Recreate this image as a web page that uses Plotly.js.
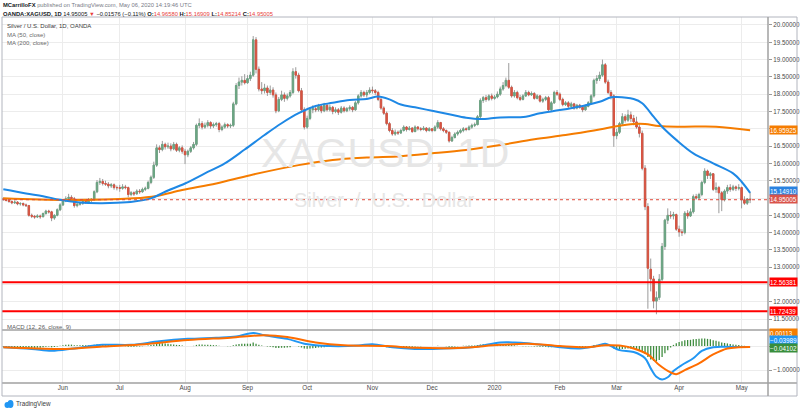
<!DOCTYPE html>
<html><head><meta charset="utf-8">
<script src="https://cdn.plot.ly/plotly-3.0.1.min.js"></script>
<style>html,body{margin:0;padding:0;background:#fff;}#chart{width:800px;height:412px;}</style>
</head><body><div id="chart"></div>
<script>
// ---- calendar (trading weekdays) ----
function weekdays(a, b) {
  const out = []; let d = new Date(a + 'T00:00:00Z'); const e = new Date(b + 'T00:00:00Z');
  while (d <= e) { const w = d.getUTCDay(); if (w !== 0 && w !== 6) out.push(d.toISOString().slice(0, 10)); d = new Date(d.getTime() + 86400000); }
  return out;
}
const dates = weekdays('2019-05-03', '2020-05-06');

// ---- OHLC (XAGUSD daily) ----
const opens = [14.98,
 14.96,14.93,14.90,14.86,14.88, 14.83,14.84,14.80,14.78,14.50, 14.47,14.45,14.48,14.46,14.55, 14.62,14.60,14.42,14.50,14.66,
 14.80,14.92,14.98,15.02,14.98, 14.78,14.82,14.85,14.90,14.88, 14.94,14.96,15.18,15.45,15.48, 15.42,15.40,15.35,15.38,15.30,
 15.30,15.28,15.32,15.30,15.10, 15.15,15.12,15.20,15.18,15.25, 15.28,15.45,15.60,15.95,16.45, 16.40,16.55,16.48,16.50,16.42,
 16.55,16.38,16.45,16.35,16.25, 16.35,16.45,16.55,17.10,17.15, 17.05,17.10,17.18,17.08,17.12, 17.15,16.98,17.05,17.12,17.08,
 17.10,17.72,18.25,18.35,18.40, 18.33,18.45,18.55,19.57,18.72, 18.15,18.10,18.18,18.05,18.12, 17.98,17.52,17.85,17.98,17.88,
 17.95,18.05,18.65,18.55,18.10, 17.55,17.05,17.30,17.55,17.58, 17.55,17.65,17.52,17.68,17.55, 17.62,17.50,17.55,17.48,17.60,
 17.52,17.58,17.62,17.55,17.75, 17.95,18.05,17.98,18.05,18.12, 18.10,18.05,17.85,17.60,17.45, 17.15,16.95,16.85,16.90,16.88,
 16.95,17.05,16.98,17.02,16.92, 17.05,17.00,16.98,17.02,16.95, 17.00,16.95,17.05,17.18,17.00, 16.95,16.90,16.65,16.75,16.85,
 16.90,16.95,17.00,16.98,17.05, 17.10,17.12,17.35,17.82,17.90, 17.85,17.95,17.88,17.92,18.00, 18.15,18.25,18.40,18.20,17.95,
 18.05,17.90,17.85,17.95,18.05, 17.98,18.02,17.88,17.95,17.80, 17.85,17.90,17.55,17.75,18.05, 18.00,17.85,17.70,17.75,17.65,
 17.72,17.60,17.68,17.62,17.55, 17.65,17.75,17.95,18.40,18.45, 18.55,18.85,18.35,18.05,17.95, 16.80,16.90,17.15,17.35,17.25,
 17.40,17.30,17.20,17.05,16.87, 15.86,14.75,12.94,12.66,12.02, 12.12,12.65,13.60,14.36,14.50, 14.48,14.52,14.10,14.02,14.00,
 14.56,14.48,14.60,15.04,15.00, 15.10,15.45,15.78,15.65,15.70, 15.25,15.30,15.15,14.95,15.20, 15.30,15.25,15.32,15.28,15.30,
 14.95,14.85,14.9658];
const highs = [15.02,
 15.00,14.97,14.93,14.93,14.91, 14.88,14.87,14.84,14.80,14.55, 14.51,14.53,14.52,14.58,14.66, 14.66,14.63,14.53,14.70,14.85,
 14.96,15.05,15.12,15.08,15.03, 14.88,14.90,14.95,14.96,15.00, 15.00,15.22,15.52,15.58,15.55, 15.50,15.46,15.43,15.42,15.36,
 15.38,15.40,15.38,15.33,15.20, 15.19,15.25,15.26,15.30,15.33, 15.50,15.65,16.05,16.55,16.52, 16.65,16.60,16.60,16.58,16.62,
 16.60,16.50,16.52,16.42,16.40, 16.50,16.62,17.15,17.30,17.22, 17.18,17.25,17.22,17.18,17.20, 17.20,17.10,17.18,17.16,17.15,
 17.78,18.32,18.48,18.52,18.58, 18.55,18.65,19.68,19.65,18.80, 18.35,18.30,18.25,18.25,18.20, 18.05,17.92,18.10,18.05,18.02,
 18.12,18.75,18.78,18.62,18.18, 17.62,17.38,17.62,17.68,17.66, 17.72,17.70,17.75,17.72,17.70, 17.66,17.62,17.60,17.66,17.65,
 17.63,17.68,17.66,17.80,18.00, 18.12,18.10,18.12,18.20,18.22, 18.15,18.10,17.90,17.65,17.50, 17.20,17.02,16.98,16.95,17.00,
 17.10,17.08,17.08,17.05,17.10, 17.08,17.05,17.08,17.05,17.05, 17.02,17.10,17.25,17.20,17.05, 16.98,16.92,16.80,16.90,16.95,
 17.00,17.05,17.04,17.10,17.15, 17.18,17.40,17.88,17.95,17.98, 18.00,18.02,17.98,18.08,18.22, 18.35,18.48,18.90,18.25,18.12,
 18.10,17.98,18.00,18.12,18.10, 18.08,18.06,18.00,17.98,17.90, 17.95,17.95,17.80,18.10,18.12, 18.05,17.90,17.80,17.80,17.78,
 17.75,17.72,17.72,17.66,17.70, 17.80,18.00,18.45,18.55,18.65, 19.00,18.90,18.42,18.12,18.00, 17.00,17.20,17.45,17.42,17.55,
 17.50,17.40,17.35,17.15,16.95, 15.95,14.85,13.25,12.75,12.30, 12.80,13.70,14.40,14.70,14.62, 14.60,14.55,14.20,14.10,14.62,
 14.65,14.70,15.10,15.12,15.15, 15.50,15.86,15.82,15.75,15.72, 15.45,15.35,15.20,15.25,15.38, 15.40,15.38,15.36,15.40,15.33,
 15.05,15.00,15.16909];
const lows = [14.92,
 14.90,14.86,14.82,14.83,14.79, 14.78,14.76,14.74,14.46,14.42, 14.40,14.42,14.40,14.44,14.52, 14.55,14.33,14.37,14.47,14.62,
 14.77,14.88,14.94,14.92,14.72, 14.73,14.78,14.80,14.83,14.85, 14.88,14.92,15.14,15.38,15.36, 15.35,15.28,15.29,15.24,15.22,
 15.18,15.24,15.25,15.02,15.05, 15.06,15.10,15.12,15.15,15.20, 15.25,15.40,15.55,15.90,16.30, 16.35,16.40,16.42,16.35,16.38,
 16.33,16.32,16.28,15.98,16.18, 16.30,16.40,16.50,17.02,16.98, 17.00,17.04,17.00,17.02,17.06, 16.90,16.93,17.00,17.02,17.02,
 17.05,17.68,18.15,18.25,18.28, 18.30,18.38,18.50,18.60,18.08, 18.00,18.02,17.95,17.98,17.90, 17.45,17.48,17.80,17.78,17.82,
 17.90,18.00,18.45,18.05,17.50, 16.98,17.00,17.25,17.45,17.48, 17.50,17.45,17.48,17.50,17.50, 17.42,17.45,17.40,17.44,17.47,
 17.48,17.52,17.48,17.52,17.70, 17.90,17.92,17.90,18.00,18.02, 17.98,17.80,17.55,17.40,17.10, 16.90,16.80,16.80,16.82,16.85,
 16.92,16.92,16.95,16.88,16.90, 16.95,16.93,16.95,16.90,16.92, 16.90,16.92,17.00,16.95,16.90, 16.85,16.60,16.62,16.72,16.80,
 16.86,16.90,16.93,16.95,17.00, 17.05,17.10,17.30,17.75,17.78, 17.80,17.82,17.84,17.88,17.95, 18.10,18.20,18.15,17.90,17.90,
 17.85,17.80,17.82,17.92,17.94, 17.95,17.84,17.85,17.76,17.75, 17.80,17.50,17.50,17.72,17.95, 17.80,17.65,17.66,17.60,17.62,
 17.55,17.56,17.58,17.48,17.52, 17.62,17.70,17.90,18.30,18.38, 18.50,18.30,18.00,17.85,16.48, 16.70,16.85,17.10,17.18,17.20,
 17.20,17.10,17.00,16.75,15.80, 14.65,11.80,12.30,11.81,11.64, 12.05,12.60,13.50,14.25,14.40, 14.38,14.05,13.88,13.90,13.95,
 14.40,14.45,14.55,14.95,14.95, 15.05,15.40,15.55,15.55,15.20, 15.15,14.56,14.62,14.90,15.12, 15.18,15.20,15.20,15.22,14.70,
 14.80,14.80,14.85214];
const closes = [14.96,
 14.93,14.90,14.86,14.88,14.83, 14.84,14.80,14.78,14.50,14.47, 14.45,14.48,14.46,14.55,14.62, 14.60,14.42,14.50,14.66,14.80,
 14.92,14.98,15.02,14.98,14.78, 14.82,14.85,14.90,14.88,14.94, 14.96,15.18,15.45,15.48,15.42, 15.40,15.35,15.38,15.30,15.30,
 15.28,15.32,15.30,15.10,15.15, 15.12,15.20,15.18,15.25,15.28, 15.45,15.60,15.95,16.45,16.40, 16.55,16.48,16.50,16.42,16.55,
 16.38,16.45,16.35,16.25,16.35, 16.45,16.55,17.10,17.15,17.05, 17.10,17.18,17.08,17.12,17.15, 16.98,17.05,17.12,17.08,17.10,
 17.72,18.25,18.35,18.40,18.33, 18.45,18.55,19.57,18.72,18.15, 18.10,18.18,18.05,18.12,17.98, 17.52,17.85,17.98,17.88,17.95,
 18.05,18.65,18.55,18.10,17.55, 17.05,17.30,17.55,17.58,17.55, 17.65,17.52,17.68,17.55,17.62, 17.50,17.55,17.48,17.60,17.52,
 17.58,17.62,17.55,17.75,17.95, 18.05,17.98,18.05,18.12,18.10, 18.05,17.85,17.60,17.45,17.15, 16.95,16.85,16.90,16.88,16.95,
 17.05,16.98,17.02,16.92,17.05, 17.00,16.98,17.02,16.95,17.00, 16.95,17.05,17.18,17.00,16.95, 16.90,16.65,16.75,16.85,16.90,
 16.95,17.00,16.98,17.05,17.10, 17.12,17.35,17.82,17.90,17.85, 17.95,17.88,17.92,18.00,18.15, 18.25,18.40,18.20,17.95,18.05,
 17.90,17.85,17.95,18.05,17.98, 18.02,17.88,17.95,17.80,17.85, 17.90,17.55,17.75,18.05,18.00, 17.85,17.70,17.75,17.65,17.72,
 17.60,17.68,17.62,17.55,17.65, 17.75,17.95,18.40,18.45,18.55, 18.85,18.35,18.05,17.95,16.80, 16.90,17.15,17.35,17.25,17.40,
 17.30,17.20,17.05,16.87,15.86, 14.75,12.97,12.66,12.02,12.12, 12.65,13.60,14.36,14.50,14.48, 14.52,14.10,14.02,14.00,14.56,
 14.48,14.60,15.04,15.00,15.10, 15.45,15.78,15.65,15.70,15.25, 15.30,15.15,14.95,15.20,15.30, 15.25,15.32,15.28,15.30,14.95,
 14.85,14.97,14.95005];

// ---- moving averages read at sample bars ----
const ma50Bars = [0,8,14,20,27,34,40,46,52,57,64,71,78,85,92,98,104,110,116,122,128,132,136,140,145,151,157,163,168,175,184,189,196,204,210,214,216,222,225,229,232,237,243,250,257,260,263];
const ma50Vals = [15.25,15.13,15.05,14.95,14.87,14.85,14.86,14.90,14.99,15.18,15.42,15.71,16.00,16.40,16.82,17.16,17.45,17.66,17.75,17.83,17.86,17.93,17.85,17.70,17.62,17.52,17.42,17.32,17.28,17.33,17.35,17.45,17.54,17.66,17.78,17.91,17.92,17.86,17.74,17.35,17.06,16.68,16.29,16.00,15.71,15.47,15.1491];
const ma200Bars = [0,22,46,54,63,75,87,104,116,128,140,151,163,175,187,198,208,215,222,226,231,239,251,263];
const ma200Vals = [14.99,14.94,14.99,15.06,15.23,15.42,15.66,15.95,16.10,16.17,16.21,16.29,16.39,16.53,16.70,16.82,16.95,17.06,17.14,17.14,17.08,17.06,17.06,16.95925];

// ---- MACD (12, 26, close, 9) ----
const macdBars = [0,10,17,25,35,45,55,65,75,82,88,92,100,106,115,125,130,137,145,155,165,175,180,190,196,203,208,212,214,217,222,226,228,230,232,234,236,239,243,246,250,254,259,263];
const macdVals = [-0.05,-0.12,-0.2,-0.1,0.05,0.05,0.2,0.3,0.35,0.4,0.55,0.45,0.3,0.1,0.0,0.02,0.08,-0.05,-0.12,-0.1,-0.05,0.15,0.15,0.05,-0.05,-0.1,-0.02,0.1,0.0,-0.17,-0.25,-0.51,-0.93,-1.28,-1.39,-1.3,-1.04,-0.79,-0.51,-0.2,-0.05,-0.03,-0.04,-0.03989];
const signalBars = [0,12,22,35,50,65,80,92,100,110,120,135,145,160,175,185,196,205,212,217,222,227,231,235,237,240,245,250,255,259,263];
const signalVals = [-0.05,-0.1,-0.12,-0.02,0.08,0.25,0.35,0.45,0.38,0.15,0.03,0.0,-0.07,-0.08,0.05,0.1,0.0,-0.05,0.03,0.02,-0.1,-0.35,-0.79,-1.1,-1.17,-1.0,-0.72,-0.35,-0.1,-0.05,-0.04102];
const histVals = [
 -0.03,-0.04,-0.05,-0.05,-0.04,-0.05,-0.05,-0.04,-0.04,-0.07,-0.08,-0.08,-0.07,-0.07,-0.05,-0.03,-0.02,-0.05,-0.04,-0.02,0.01,
 0.03,0.05,0.06,0.06,0.03,0.03,0.03,0.04,0.03,0.03,0.03,0.05,0.08,0.09,0.08,0.06,0.05,0.04,0.02,0.01,
 0.0,0.0,-0.01,-0.03,-0.03,-0.03,-0.02,-0.02,-0.01,0.0,0.02,0.04,0.07,0.11,0.12,0.12,0.11,0.1,0.08,0.07,
 0.05,0.04,0.02,0.0,0.0,0.0,0.01,0.05,0.07,0.07,0.06,0.06,0.05,0.04,0.03,0.01,0.0,0.0,-0.01,-0.01,
 0.03,0.07,0.09,0.1,0.1,0.1,0.1,0.15,0.1,0.05,0.02,0.0,-0.02,-0.03,-0.05,-0.08,-0.08,-0.07,-0.07,-0.06,
 -0.05,0.0,0.0,-0.02,-0.06,-0.1,-0.11,-0.1,-0.09,-0.08,-0.06,-0.06,-0.05,-0.04,-0.04,-0.03,-0.02,-0.02,-0.01,-0.01,
 0.0,0.0,0.0,0.01,0.03,0.04,0.05,0.05,0.05,0.05,0.04,0.02,0.0,-0.02,-0.05,-0.07,-0.08,-0.08,-0.07,-0.06,
 -0.05,-0.04,-0.03,-0.03,-0.02,-0.01,-0.01,0.0,0.0,0.0,0.0,0.0,0.01,0.0,0.0,-0.01,-0.03,-0.03,-0.02,-0.01,
 0.0,0.01,0.01,0.02,0.02,0.02,0.04,0.07,0.08,0.08,0.08,0.08,0.07,0.07,0.07,0.08,0.09,0.07,0.04,0.03,
 0.01,0.0,-0.01,-0.01,-0.01,-0.01,-0.02,-0.02,-0.03,-0.03,-0.03,-0.05,-0.05,-0.03,-0.02,-0.03,-0.04,-0.04,-0.04,-0.04,
 -0.04,-0.04,-0.04,-0.04,-0.03,-0.02,0.0,0.04,0.06,0.07,0.09,0.07,0.04,0.0,-0.1,-0.14,-0.14,-0.12,-0.11,-0.1,
 -0.1,-0.11,-0.13,-0.17,-0.24,-0.33,-0.46,-0.56,-0.62,-0.64,-0.58,-0.46,-0.3,-0.17,-0.06,0.05,0.12,0.17,0.2,0.24,
 0.25,0.26,0.28,0.29,0.3,0.32,0.32,0.3,0.28,0.24,0.22,0.19,0.15,0.13,0.11,0.09,0.07,0.05,0.04,0.02,0.01,0.0,0.00113];

// ---- levels & ticks ----
const supportLevels = [12.56381, 11.72439];
const lastClose = 14.95005;
const priceTicks = [11.5,12,12.5,13,13.5,14,14.5,15,15.5,16,16.5,17,17.5,18,18.5,19,19.5,20];
const coveredTicks = [12.5, 15, 17];   // tick texts hidden behind the price labels
const monthTickDates = ['2019-06-03','2019-07-01','2019-08-01','2019-09-02','2019-10-01','2019-11-01','2019-12-02','2020-01-01','2020-02-03','2020-03-02','2020-04-01','2020-05-01'];
const monthTickText = ['Jun','Jul','Aug','Sep','Oct','Nov','Dec','2020','Feb','Mar','Apr','May'];

// ---- styling helpers (pixel -> paper) ----
const L = 2, R = 768, T = 17, B = 383;
const PX = x => (x - L) / (R - L);
const PY = y => (B - y) / (B - T);
const UP = '#6ba583', DN = '#d75442', WICK = '#9b9b9b';
const FONT = 'Liberation Sans, Arial, sans-serif';

const bodyHigh = opens.map((o, i) => Math.max(o, closes[i]));
const bodyLow = opens.map((o, i) => Math.min(o, closes[i]));

const traces = [
  { type: 'candlestick', x: dates, open: opens, high: highs, low: lows, close: closes, xaxis: 'x', yaxis: 'y',
    increasing: { line: { color: WICK, width: 1 }, fillcolor: WICK }, decreasing: { line: { color: WICK, width: 1 }, fillcolor: WICK },
    whiskerwidth: 0, hoverinfo: 'skip', showlegend: false },
  { type: 'candlestick', x: dates, open: opens, high: bodyHigh, low: bodyLow, close: closes, xaxis: 'x', yaxis: 'y',
    increasing: { line: { color: UP, width: 1 }, fillcolor: UP }, decreasing: { line: { color: DN, width: 1 }, fillcolor: DN },
    whiskerwidth: 0, hoverinfo: 'skip', showlegend: false },
  { type: 'scatter', mode: 'lines', x: ma200Bars.map(i => dates[i]), y: ma200Vals, line: { color: '#f57c00', width: 2, shape: 'spline', smoothing: 1 }, hoverinfo: 'skip', showlegend: false },
  { type: 'scatter', mode: 'lines', x: ma50Bars.map(i => dates[i]), y: ma50Vals, line: { color: '#1e88e5', width: 2, shape: 'spline', smoothing: 1 }, hoverinfo: 'skip', showlegend: false },
  { type: 'bar', x: dates, y: histVals, xaxis: 'x', yaxis: 'y2', width: 0.45, marker: { color: '#3d8b3d' }, hoverinfo: 'skip', showlegend: false },
  { type: 'scatter', mode: 'lines', x: macdBars.map(i => dates[i]), y: macdVals, xaxis: 'x', yaxis: 'y2', line: { color: '#2196f3', width: 2, shape: 'spline', smoothing: 1 }, hoverinfo: 'skip', showlegend: false },
  { type: 'scatter', mode: 'lines', x: signalBars.map(i => dates[i]), y: signalVals, xaxis: 'x', yaxis: 'y2', line: { color: '#ff6d00', width: 2, shape: 'spline', smoothing: 1 }, hoverinfo: 'skip', showlegend: false }
];

const shapes = [
  { type: 'line', xref: 'paper', yref: 'y', x0: 0, x1: 1, y0: lastClose, y1: lastClose, line: { color: '#e0483a', width: 1, dash: 'dot' } },
  ...supportLevels.map(v => ({ type: 'line', xref: 'paper', yref: 'y', x0: 0, x1: 1, y0: v, y1: v, line: { color: '#ff0000', width: 2 } })),
  // frame
  { type: 'line', xref: 'paper', yref: 'paper', x0: PX(2), x1: PX(797), y0: PY(17), y1: PY(17), line: { color: '#b2b5be', width: 1 } },
  { type: 'line', xref: 'paper', yref: 'paper', x0: PX(2), x1: PX(797), y0: PY(330), y1: PY(330), line: { color: '#a0a0a0', width: 1.5 } },
  { type: 'line', xref: 'paper', yref: 'paper', x0: PX(2), x1: PX(797), y0: PY(383), y1: PY(383), line: { color: '#a0a0a0', width: 1.5 } },
  { type: 'line', xref: 'paper', yref: 'paper', x0: PX(2), x1: PX(797), y0: PY(396), y1: PY(396), line: { color: '#b2b5be', width: 1 } },
  { type: 'line', xref: 'paper', yref: 'paper', x0: PX(2), x1: PX(2), y0: PY(17), y1: PY(396), line: { color: '#b2b5be', width: 1 } },
  { type: 'line', xref: 'paper', yref: 'paper', x0: PX(768), x1: PX(768), y0: PY(17), y1: PY(396), line: { color: '#a0a0a0', width: 1.5 } },
  { type: 'line', xref: 'paper', yref: 'paper', x0: PX(797), x1: PX(797), y0: PY(17), y1: PY(396), line: { color: '#b2b5be', width: 1 } },
  // TradingView logo (cloud)
  { type: 'circle', xref: 'paper', yref: 'paper', x0: PX(4.5), x1: PX(10), y0: PY(408), y1: PY(402), fillcolor: '#2196f3', line: { width: 0 } },
  { type: 'circle', xref: 'paper', yref: 'paper', x0: PX(7.5), x1: PX(13.5), y0: PY(408), y1: PY(400), fillcolor: '#2196f3', line: { width: 0 } }
];

function priceLabel(text, y, bg) {
  return { xref: 'paper', yref: 'paper', x: 1, y: PY(y), xanchor: 'left', yanchor: 'middle', xshift: 1, text: text, showarrow: false,
    font: { family: FONT, size: 6.3, color: '#ffffff' }, bgcolor: bg, width: 27, height: 8, align: 'left', borderpad: 0 };
}
function txt(text, x, y, size, color, extra) {
  return Object.assign({ xref: 'paper', yref: 'paper', x: PX(x), y: PY(y), xanchor: 'left', yanchor: 'middle', text: text, showarrow: false,
    font: { family: FONT, size: size, color: color } }, extra || {});
}
const RED = '#e8413c';
const annotations = [
  txt('<b>MCarrilloFX</b><span style="color:#787b86"> published on TradingView.com, May 06, 2020 14:19:46 UTC</span>', 1, 5, 5.8, '#131722'),
  txt('<b>OANDA:XAGUSD, 1D</b> 14.95005 <span style="color:' + RED + '">▼</span> −0.01576 (−0.11%) <b>O:</b><span style="color:' + RED + '">14.96580</span> <b>H:</b><span style="color:' + RED + '">15.16909</span> <b>L:</b><span style="color:' + RED + '">14.85214</span> <b>C:</b><span style="color:' + RED + '">14.95005</span>', 1, 14, 5.8, '#131722'),
  txt('Silver / U.S. Dollar, 1D, OANDA', 5, 26, 6, '#3a3a3a'),
  txt('MA (50, close)', 5, 34.5, 6, '#6a6a6a'),
  txt('MA (200, close)', 5, 43, 6, '#6a6a6a'),
  txt('MACD (12, 26, close, 9)', 5, 327, 6, '#5a5a5a'),
  txt('TradingView', 14, 404, 6.3, '#3a3a3a'),
  { xref: 'paper', yref: 'paper', x: PX(385), y: PY(153), xanchor: 'center', yanchor: 'middle', text: 'XAGUSD, 1D', showarrow: false, font: { family: FONT, size: 41, color: '#e6e6e6' } },
  { xref: 'paper', yref: 'paper', x: PX(384), y: PY(200), xanchor: 'center', yanchor: 'middle', text: 'Silver  /  U.S.  Dollar', showarrow: false, font: { family: FONT, size: 20, color: '#e6e6e6' } },
  priceLabel('16.95925', 129.5, '#f57c00'),
  priceLabel('15.14910', 190.7, '#2a82e0'),
  priceLabel('14.95005', 198.8, '#d9534a'),
  priceLabel('12.56381', 281.7, '#ff0000'),
  priceLabel('11.72439', 310.7, '#ff0000'),
  priceLabel('0.00113', 332.5, '#f57c00'),
  priceLabel('−0.03989', 340.3, '#2196f3'),
  priceLabel('−0.04102', 348.4, '#388e3c')
];

const layout = {
  width: 800, height: 412, margin: { l: L, r: 800 - R, t: T, b: 412 - B },
  paper_bgcolor: '#ffffff', plot_bgcolor: '#ffffff', showlegend: false, dragmode: false,
  font: { family: FONT, size: 6.3, color: '#4a4a4a' },
  xaxis: { type: 'category', categoryorder: 'array', categoryarray: dates, range: [-0.46, 269.3], anchor: 'y2',
    tickmode: 'array', tickvals: monthTickDates, ticktext: monthTickText, showgrid: true, gridcolor: '#ececec', gridwidth: 1,
    showline: false, zeroline: false, ticks: '', tickfont: { family: FONT, size: 6.3, color: '#4a4a4a' }, rangeslider: { visible: false }, fixedrange: true },
  yaxis: { domain: [PY(330), 1], range: [11.185, 20.231], side: 'right', anchor: 'x', tickmode: 'array', tickvals: priceTicks,
    ticktext: priceTicks.map(v => coveredTicks.includes(v) ? '' : v.toFixed(5)), showgrid: true, gridcolor: '#ececec', zeroline: false, showline: false,
    ticks: 'outside', ticklen: 3, tickcolor: '#9a9a9a', tickfont: { family: FONT, size: 6.3, color: '#4a4a4a' }, fixedrange: true },
  yaxis2: { domain: [0, PY(330)], range: [-1.54, 0.67], side: 'right', anchor: 'x', tickmode: 'array', tickvals: [-1, 0],
    ticktext: ['−1.00000', ''], showgrid: true, gridcolor: '#ececec', zeroline: false, showline: false,
    ticks: 'outside', ticklen: 3, tickcolor: '#9a9a9a', tickfont: { family: FONT, size: 6.3, color: '#4a4a4a' }, fixedrange: true },
  shapes: shapes, annotations: annotations, bargap: 0.5
};

Plotly.newPlot('chart', traces, layout, { staticPlot: true, displayModeBar: false });
</script></body></html>
